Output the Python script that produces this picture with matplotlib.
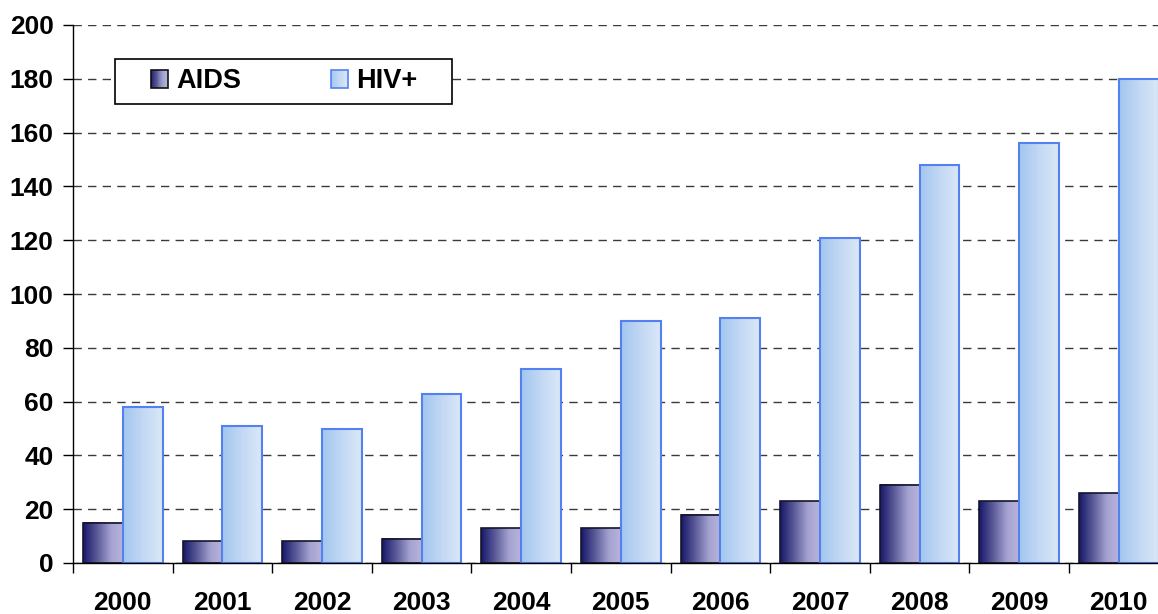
import numpy as np
import matplotlib
matplotlib.use("Agg")
import matplotlib.pyplot as plt
from matplotlib.colors import LinearSegmentedColormap
from matplotlib.patches import Rectangle
from matplotlib.legend_handler import HandlerBase

years = ["2000", "2001", "2002", "2003", "2004", "2005", "2006", "2007", "2008", "2009", "2010"]
aids = [15, 8, 8, 9, 13, 13, 18, 23, 29, 23, 26]
hiv = [58, 51, 50, 63, 72, 90, 91, 121, 148, 156, 180]
series_names = ["AIDS", "HIV+"]
yticks = [0, 20, 40, 60, 80, 100, 120, 140, 160, 180, 200]

plt.rcParams['font.family'] = ['Liberation Sans', 'DejaVu Sans']
plt.rcParams['font.weight'] = 'bold'

cmap_aids = LinearSegmentedColormap.from_list(
    "aids", [(0.0, "#17176a"), (0.35, "#5a5a98"), (0.7, "#a4a2d0"), (1.0, "#b8b4dc")])
cmap_hiv = LinearSegmentedColormap.from_list(
    "hiv", [(0.0, "#a2c6ef"), (0.5, "#c2d8f4"), (1.0, "#dbe8f8")])
edge_aids = "#15152a"
edge_hiv = "#5580f0"

fig = plt.figure(figsize=(11.58, 6.14), dpi=100)
ax = fig.add_axes([73/1158, 51/614, 1095.6/1158, 538/614])

x = np.arange(len(years))
w = 0.4
b1 = ax.bar(x - w/2, aids, width=w, facecolor='none', edgecolor=edge_aids, linewidth=1.2, zorder=4)
b2 = ax.bar(x + w/2, hiv, width=w, facecolor='none', edgecolor=edge_hiv, linewidth=1.5, zorder=4)

grad = np.linspace(0, 1, 256).reshape(1, -1)
for bars, cm in ((b1, cmap_aids), (b2, cmap_hiv)):
    for p in bars:
        x0 = p.get_x(); x1 = x0 + p.get_width(); h = p.get_height()
        ax.imshow(grad, extent=(x0, x1, 0, h), aspect='auto', cmap=cm,
                  interpolation='bilinear', zorder=3)

ax.set_xlim(-0.5, len(years) - 0.5)
ax.set_ylim(0, 200)
ax.set_yticks(yticks)
ax.set_yticklabels([str(v) for v in yticks], fontsize=19, fontweight='bold')
ax.set_xticks(x)
ax.set_xticklabels(years, fontsize=19, fontweight='bold')
ax.set_xticks(np.arange(len(years) + 1) - 0.5, minor=True)
ax.tick_params(axis='x', which='major', length=0, pad=20)
ax.tick_params(axis='x', which='minor', length=7, width=1, direction='out')
ax.tick_params(axis='y', which='major', length=7, width=1, direction='out', pad=7)

ax.yaxis.grid(True, linestyle=(0, (6, 4.5)), color='#3a3a3a', linewidth=1.0, zorder=1)
ax.set_axisbelow(True)
for s in ('top', 'right'):
    ax.spines[s].set_visible(False)
for s in ('left', 'bottom'):
    ax.spines[s].set_linewidth(1.0)
    ax.spines[s].set_color('black')
    ax.spines[s].set_zorder(5)


class GradHandler(HandlerBase):
    def __init__(self, cm, ec, lw):
        super().__init__()
        self.cm, self.ec, self.lw = cm, ec, lw

    def create_artists(self, legend, orig_handle, xdescent, ydescent, width, height, fontsize, trans):
        n = 20
        arts = []
        for i in range(n):
            r = Rectangle((-xdescent + width * i / n, -ydescent), width / n + 0.05, height,
                          facecolor=self.cm((i + 0.5) / n), edgecolor='none', transform=trans)
            arts.append(r)
        arts.append(Rectangle((-xdescent, -ydescent), width, height, facecolor='none',
                              edgecolor=self.ec, linewidth=self.lw, transform=trans))
        return arts


h1 = Rectangle((0, 0), 1, 1)
h2 = Rectangle((0, 0), 1, 1)
leg = fig.legend([h1, h2], series_names, ncol=2, loc='center',
                 bbox_to_anchor=(284/1158, 1 - 81.5/614),
                 frameon=False, prop={'size': 19.5, 'weight': 'bold'},
                 handlelength=0.65, handleheight=0.65, handletextpad=0.3,
                 columnspacing=3.3,
                 handler_map={h1: GradHandler(cmap_aids, '#111111', 1.2),
                              h2: GradHandler(cmap_hiv, edge_hiv, 1.2)})
fig.patches.append(Rectangle((115/1158, 1 - 104/614), 337/1158, 45/614,
                             transform=fig.transFigure, facecolor='white',
                             edgecolor='black', linewidth=1.2, zorder=0))

fig.savefig("out.png", dpi=100)
